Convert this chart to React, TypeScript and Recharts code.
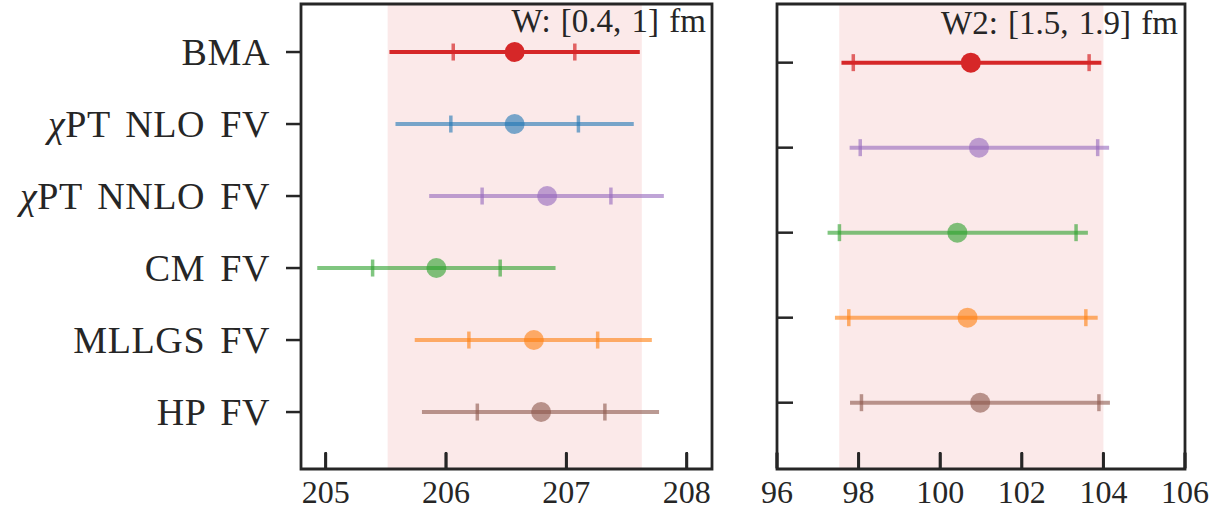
import React from 'react';
import { ScatterChart, Scatter, XAxis, YAxis, ErrorBar, ReferenceArea } from 'recharts';

// left panel: W window [0.4, 1] fm
const wLabels = ['BMA', 'χPT NLO FV', 'χPT NNLO FV', 'CM FV', 'MLLGS FV', 'HP FV'];
const wColors = ['#d62728', '#1f77b4', '#9467bd', '#2ca02c', '#ff7f0e', '#8c564b'];
const wCentral = [206.57, 206.57, 206.84, 205.92, 206.73, 206.79];
const wStatLo = [206.06, 206.04, 206.3, 205.39, 206.19, 206.26];
const wStatHi = [207.07, 207.1, 207.37, 206.45, 207.26, 207.32];
const wTotLo = [205.53, 205.58, 205.86, 204.93, 205.74, 205.8];
const wTotHi = [207.61, 207.56, 207.81, 206.91, 207.71, 207.77];
const wBand = [205.515, 207.627];
const wTicks = [205, 206, 207, 208];

// right panel: W2 window [1.5, 1.9] fm (no NLO entry)
const w2Labels = ['BMA', 'χPT NNLO FV', 'CM FV', 'MLLGS FV', 'HP FV'];
const w2Colors = ['#d62728', '#9467bd', '#2ca02c', '#ff7f0e', '#8c564b'];
const w2Central = [100.75, 100.95, 100.42, 100.67, 100.98];
const w2StatLo = [97.87, 98.04, 97.53, 97.76, 98.07];
const w2StatHi = [103.65, 103.86, 103.33, 103.57, 103.89];
const w2TotLo = [97.58, 97.78, 97.24, 97.42, 97.79];
const w2TotHi = [103.95, 104.14, 103.62, 103.86, 104.16];
const w2Band = [97.525, 104.0];
const w2Ticks = [96, 98, 100, 102, 104, 106];

const AXIS = '#262626';
const FONT = '"Liberation Serif", "Times New Roman", serif';

type Row = {
  name: string;
  color: string;
  alpha: number;
  point: { x: number; y: number; err: number[] }[];
  stat: { x: number; y: number }[];
};

function buildRows(
  names: string[],
  colors: string[],
  central: number[],
  statLo: number[],
  statHi: number[],
  totLo: number[],
  totHi: number[]
): Row[] {
  return names.map((name, i) => ({
    name,
    color: colors[i],
    alpha: i === 0 ? 1 : 0.6,
    point: [{ x: central[i], y: i, err: [central[i] - totLo[i], totHi[i] - central[i]] }],
    stat: [
      { x: statLo[i], y: i },
      { x: statHi[i], y: i },
    ],
  }));
}

const wRows = buildRows(wLabels, wColors, wCentral, wStatLo, wStatHi, wTotLo, wTotHi);
const w2Rows = buildRows(w2Labels, w2Colors, w2Central, w2StatLo, w2StatHi, w2TotLo, w2TotHi);

// y label with outward tick (left panel)
function renderYLabel(props: any, labels: string[]) {
  const { x, y, payload } = props;
  const label: string = labels[payload.value] ?? '';
  const greek = label.startsWith('χ');
  return (
    <g>
      <line x1={x - 15} x2={x} y1={y} y2={y} stroke={AXIS} strokeWidth={2.5} />
      <text
        x={x - 31}
        y={y}
        dy={13}
        textAnchor="end"
        fontSize={38}
        fill={AXIS}
        fontFamily={FONT}
        style={{ wordSpacing: 5, letterSpacing: 0.6 }}
      >
        {greek ? (
          <>
            <tspan fontStyle="italic">χ</tspan>
            {label.slice(1)}
          </>
        ) : (
          label
        )}
      </text>
    </g>
  );
}

// inward tick, no label (right panel)
function renderYInTick(props: any) {
  const { x, y } = props;
  return <line x1={x} x2={x + 16} y1={y} y2={y} stroke={AXIS} strokeWidth={2.5} />;
}

// x tick: inward mark plus label below the axis
function renderXTick(props: any) {
  const { x, y, payload } = props;
  return (
    <g>
      <path d={`M${x},${y - 17}L${x},${y}`} stroke={AXIS} strokeWidth={2.5} fill="none" />
      <text x={x} y={y + 34} textAnchor="middle" fontSize={32} fill={AXIS} fontFamily={FONT}>
        {payload.value}
      </text>
    </g>
  );
}

// inward x tick mark drawn as a point sitting on the bottom edge
const xTickMark = (p: any) => (
  <line x1={p.cx} x2={p.cx} y1={p.cy - 16} y2={p.cy - 1} stroke={AXIS} strokeWidth={3} />
);

interface PanelProps {
  rows: Row[];
  left: number;
  width: number;
  yAxisWidth: number;
  marginRight: number;
  xDomain: number[];
  xTicks: number[];
  yDomain: number[];
  band: number[];
  labels?: string[];
  title: string;
  titleRight: number;
  titleTop: number;
}

function Panel({ rows, left, width, yAxisWidth, marginRight, xDomain, xTicks, yDomain, band, labels, title, titleRight, titleTop }: PanelProps) {
  const yTicks = rows.map((_, i) => i);
  const tickPoints = xTicks.map((t) => ({ x: t, y: yDomain[1] }));
  return (
    <>
      <div style={{ position: 'absolute', left, top: 0, fontFamily: FONT }}>
        <ScatterChart width={width} height={510} margin={{ top: 4, right: marginRight, left: 0, bottom: 0 }}>
          <ReferenceArea x1={band[0]} x2={band[1]} fill="#d62728" fillOpacity={0.1} stroke="none" />
          <ReferenceArea
            x1={xDomain[0]}
            x2={xDomain[1]}
            y1={yDomain[0]}
            y2={yDomain[1]}
            fill="none"
            fillOpacity={0}
            stroke={AXIS}
            strokeWidth={2.8}
            ifOverflow="visible"
          />
          <XAxis
            type="number"
            dataKey="x"
            domain={xDomain}
            ticks={xTicks}
            interval={0}
            height={41}
            axisLine={false}
            tickSize={0}
            tickMargin={0}
            tickLine={false}
            tick={renderXTick}
          />
          <YAxis
            type="number"
            dataKey="y"
            domain={yDomain}
            reversed
            ticks={yTicks}
            interval={0}
            width={yAxisWidth}
            axisLine={false}
            tickSize={0}
            tickMargin={0}
            tickLine={false}
            tick={labels ? (p: any) => renderYLabel(p, labels) : renderYInTick}
          />
          {rows.map((r) => (
            <Scatter
              key={r.name}
              data={r.point}
              isAnimationActive={false}
              shape={(p: any) => <circle cx={p.cx} cy={p.cy} r={10} fill={r.color} fillOpacity={r.alpha} />}
            >
              <ErrorBar
                dataKey="err"
                direction="x"
                width={0}
                stroke={r.color}
                strokeWidth={4}
                strokeOpacity={r.alpha}
                isAnimationActive={false}
              />
            </Scatter>
          ))}
          {rows.map((r) => (
            <Scatter
              key={r.name + '-stat'}
              data={r.stat}
              isAnimationActive={false}
              shape={(p: any) => (
                <line
                  x1={p.cx}
                  x2={p.cx}
                  y1={p.cy - 8.5}
                  y2={p.cy + 8.5}
                  stroke={r.color}
                  strokeOpacity={r.alpha === 1 ? 0.7 : 0.6}
                  strokeWidth={3.5}
                />
              )}
            />
          ))}
          <Scatter data={tickPoints} isAnimationActive={false} shape={xTickMark} />
        </ScatterChart>
      </div>
      <div
        style={{
          position: 'absolute',
          left: 0,
          top: titleTop,
          width: titleRight,
          textAlign: 'right',
          fontFamily: FONT,
          fontSize: 33,
          lineHeight: '33px',
          color: AXIS,
          whiteSpace: 'nowrap',
          wordSpacing: 2,
        }}
      >
        {title}
      </div>
    </>
  );
}

export default function App() {
  return (
    <div style={{ position: 'absolute', left: 0, top: 0, width: 1222, height: 510, background: '#fff', overflow: 'hidden' }}>
      <Panel
        rows={wRows}
        left={0}
        width={730}
        yAxisWidth={301}
        marginRight={18}
        xDomain={[204.795, 208.21]}
        xTicks={wTicks}
        yDomain={[-0.667, 5.791]}
        band={wBand}
        labels={wLabels}
        title="W: [0.4, 1] fm"
        titleRight={706}
        titleTop={5}
      />
      <Panel
        rows={w2Rows}
        left={760}
        width={462}
        yAxisWidth={17}
        marginRight={37}
        xDomain={[96, 106]}
        xTicks={w2Ticks}
        yDomain={[-0.69, 4.78]}
        band={w2Band}
        title="W2: [1.5, 1.9] fm"
        titleRight={1178}
        titleTop={7}
      />
    </div>
  );
}
